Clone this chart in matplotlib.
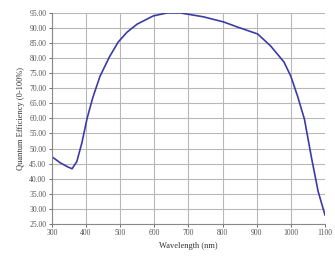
import matplotlib
matplotlib.use("Agg")
import matplotlib.pyplot as plt
from matplotlib.ticker import FormatStrFormatter

wavelength = [300, 324, 345, 359, 373, 388, 403, 420, 441, 468, 494, 520, 550, 597, 638, 676,
              744, 803, 844, 903, 941, 980, 1000, 1020, 1040, 1060, 1080, 1100]
qe = [47.3, 45.3, 44.0, 43.3, 45.7, 52.0, 60.0, 67.0, 74.0, 80.3, 85.3, 88.6, 91.3, 94.0, 95.0, 95.0,
      93.7, 92.0, 90.3, 88.0, 84.0, 78.7, 74.0, 67.3, 59.7, 47.3, 35.8, 28.0]
x_ticks = [300, 400, 500, 600, 700, 800, 900, 1000, 1100]
y_ticks = [25, 30, 35, 40, 45, 50, 55, 60, 65, 70, 75, 80, 85, 90, 95]

plt.rcParams['font.family'] = ['Liberation Serif', 'DejaVu Serif']

fig = plt.figure(figsize=(3.35, 2.58), dpi=100)
ax = fig.add_axes([0.155, 0.132, 0.815, 0.818])
ax.plot(wavelength, qe, color='#3b3ba6', linewidth=1.2)
ax.set_xlim(300, 1100)
ax.set_ylim(25, 95)
ax.set_xticks(x_ticks)
ax.set_yticks(y_ticks)
ax.yaxis.set_major_formatter(FormatStrFormatter('%.2f'))
ax.grid(True, color='#b8b8b8', linewidth=0.8)
ax.set_axisbelow(True)
ax.tick_params(labelsize=5.5, length=2, width=0.6, colors='#555555', pad=2)
for s in ['top', 'right']:
    ax.spines[s].set_visible(False)
for s in ['left', 'bottom']:
    ax.spines[s].set_color('#888888')
    ax.spines[s].set_linewidth(0.8)
ax.set_xlabel('Wavelength (nm)', fontsize=6, color='#333333', labelpad=3)
ax.set_ylabel('Quantum Efficiency (0-100%)', fontsize=6, color='#333333', labelpad=3)
fig.savefig('out.png', dpi=100)
